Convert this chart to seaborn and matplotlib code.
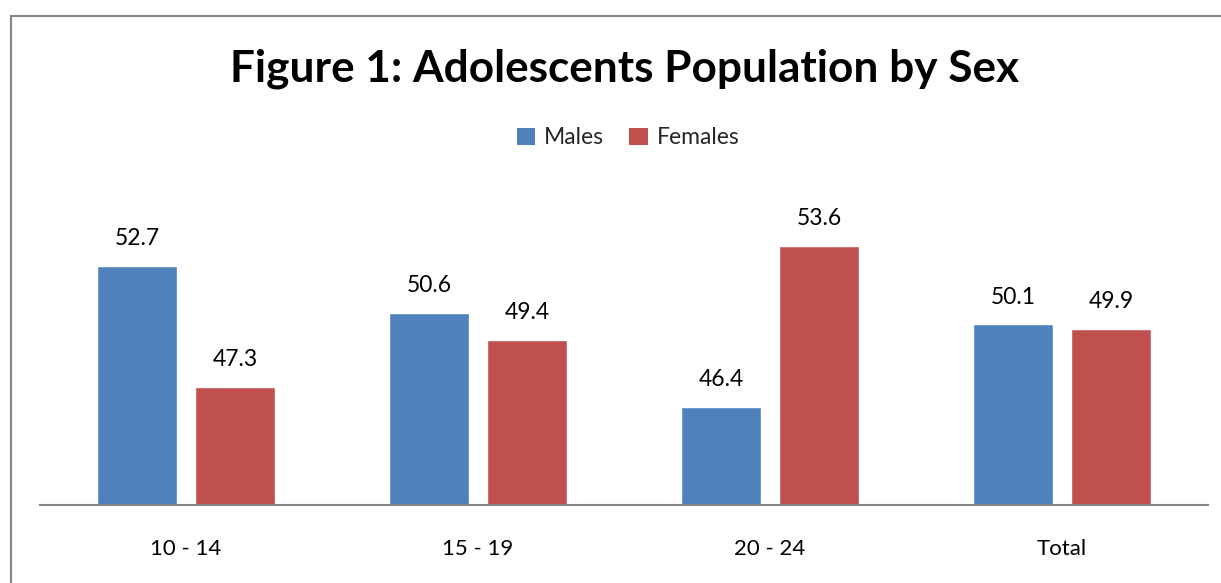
import matplotlib
matplotlib.use("Agg")
import matplotlib.pyplot as plt
import seaborn as sns
import pandas as pd
from matplotlib.patches import Patch
from matplotlib.lines import Line2D

categories = ["10 - 14", "15 - 19", "20 - 24", "Total"]
series = ["Males", "Females"]
males = [52.7, 50.6, 46.4, 50.1]
females = [47.3, 49.4, 53.6, 49.9]
colors = ["#4F81BD", "#C0504D"]
title = "Figure 1: Adolescents Population by Sex"

df = pd.DataFrame({
    "Group": categories * 2,
    "Sex": [series[0]] * len(categories) + [series[1]] * len(categories),
    "Value": males + females,
})

sns.set_theme(style="white")
plt.rcParams['font.family'] = ['Lato', 'DejaVu Sans']

W, H = 1221, 583
fig = plt.figure(figsize=(W / 100, H / 100), dpi=100)
ax = fig.add_axes([40 / W, (H - 505.3) / H, 1168 / W, (505.3 - 170) / H])

sns.barplot(data=df, x="Group", y="Value", hue="Sex", palette=colors,
            width=0.67, gap=0.19, saturation=1, legend=False, ax=ax)
ax.set_ylim(42, 57)
ax.set_xlim(-0.5, 3.5)
for s in ["left", "top", "right"]:
    ax.spines[s].set_visible(False)
ax.spines["bottom"].set_color("#868686")
ax.spines["bottom"].set_linewidth(1.5)
ax.set_yticks([])
ax.set_xlabel("")
ax.set_ylabel("")
ax.tick_params(axis="x", length=0, pad=24, labelsize=16, labelcolor="black")

for cont in ax.containers:
    ax.bar_label(cont, fmt="%.1f", padding=12, fontsize=16.5, color="black")

fig.text(625 / W, 1 - 69 / H, title, ha="center", va="center",
         fontsize=31.8, fontweight="bold", color="black")

handles = [Patch(facecolor=c, edgecolor="none", label=l) for c, l in zip(colors, series)]
fig.legend(handles=handles, loc="center", bbox_to_anchor=(628 / W, 1 - 138 / H),
           ncol=2, frameon=False, fontsize=16.5, handlelength=0.8, handleheight=0.8,
           handletextpad=0.4, columnspacing=1.1)

# outer chart frame (cropped at right and bottom)
fig.add_artist(Line2D([11 / W, 1.0], [1 - 16 / H, 1 - 16 / H], transform=fig.transFigure,
                      color="#868686", lw=1.5))
fig.add_artist(Line2D([11 / W, 11 / W], [0, 1 - 16 / H], transform=fig.transFigure,
                      color="#868686", lw=1.5))

fig.savefig("out.png", dpi=100, facecolor="white")
